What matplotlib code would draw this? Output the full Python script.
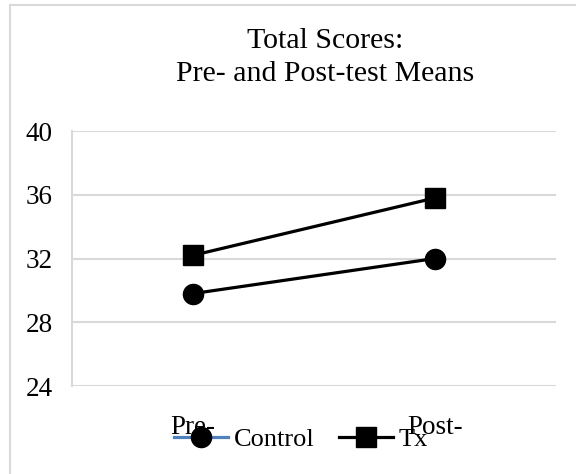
import matplotlib.pyplot as plt
from matplotlib.lines import Line2D
from matplotlib.patches import Rectangle

# Category labels and group means
phases = ["Pre-", "Post-"]
control_means = [29.8, 32.0]
tx_means = [32.2, 35.8]
y_ticks = [24, 28, 32, 36, 40]

plt.rcParams['font.family'] = ['Liberation Serif', 'DejaVu Serif']

fig = plt.figure(figsize=(5.76, 4.74), dpi=100)
W, H = 576, 474

# chart area border
fig.patches.append(Rectangle((10 / W, -0.1), 1.2, 1 - 5 / H + 0.1,
                             transform=fig.transFigure, fill=False,
                             edgecolor='#d9d9d9', linewidth=1.5))

ax = fig.add_axes([72 / W, 1 - 386 / H, (556 - 72) / W, (386 - 131) / H])

x = [0, 1]
ax.plot(x, control_means, color='black', linewidth=2.3, marker='o',
        markersize=14.5, zorder=3)
ax.plot(x, tx_means, color='black', linewidth=2.3, marker='s',
        markersize=14, zorder=3)

ax.set_xlim(-0.5, 1.5)
ax.set_ylim(24, 40)
ax.set_yticks(y_ticks)
ax.set_xticks(x)
ax.set_xticklabels(phases)
ax.tick_params(axis='both', length=0, labelsize=19.5)
ax.tick_params(axis='y', pad=14)
ax.tick_params(axis='x', pad=21)

ax.grid(axis='y', color='#d9d9d9', linewidth=1.5)
ax.set_axisbelow(True)
for side in ['top', 'right', 'bottom']:
    ax.spines[side].set_visible(False)
ax.spines['left'].set_color('#d9d9d9')
ax.spines['left'].set_linewidth(1.5)

fig.text(325 / W, 1 - 41 / H, "Total Scores:", ha='center', va='center',
         fontsize=21.5)
fig.text(325 / W, 1 - 74 / H, "Pre- and Post-test Means", ha='center',
         va='center', fontsize=21.5)

handles = [
    Line2D([0], [0], color='#4f81bd', linewidth=2.3, marker='o',
           markersize=14.5, markerfacecolor='black', markeredgecolor='black'),
    Line2D([0], [0], color='black', linewidth=2.3, marker='s',
           markersize=14),
]
fig.legend(handles, ["Control", "Tx"], loc='center',
           bbox_to_anchor=(301 / W, 1 - 439 / H), ncol=2, frameon=False,
           fontsize=19, handlelength=2.05, handletextpad=0.23,
           columnspacing=0.9, borderpad=0)

fig.savefig("out.png", dpi=100)
